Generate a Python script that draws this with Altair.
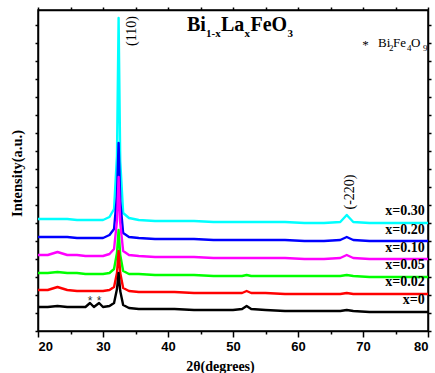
import altair as alt
import pandas as pd

# ---------------- data ----------------
two_theta = [20, 21.5, 23, 24.5, 26, 27.3, 28.0, 28.6, 29.4, 30.0, 31.0, 31.7, 32.15, 32.4, 32.65,
             33.1, 34.0, 35.5, 38, 41, 44, 47, 50, 51.4, 52.1, 52.8, 55, 58, 61, 64, 66.5,
             67.5, 68.5, 71, 74, 77, 80]

series_names = ["x=0.30", "x=0.20", "x=0.10", "x=0.05", "x=0.02", "x=0"]
series_colors = ["#00FFFF", "#0000FF", "#FF00FF", "#00FF00", "#FF0000", "#000000"]

int_030 = [112, 112, 112, 112, 111, 111, 111, 111, 111, 111, 114, 122, 175, 313, 170,
           118, 113, 111, 110, 110, 110, 109, 109, 109, 109, 109, 109, 109, 108, 108, 109,
           116, 109, 108, 108, 108, 108]
int_020 = [94, 94, 94, 94, 93, 93, 93, 93, 93, 93, 96, 102, 135, 188, 130,
           98, 94, 93, 92, 92, 92, 91, 91, 91, 91, 91, 91, 91, 90, 90, 91,
           94, 91, 90, 90, 90, 90]
int_010 = [76, 76, 79, 76, 76, 75, 75, 75, 75, 75, 77, 82, 110, 154, 108,
           80, 76, 75, 74, 74, 74, 73, 73, 73, 73, 73, 73, 73, 72, 72, 73,
           76, 73, 72, 72, 72, 72]
int_005 = [58, 58, 59, 58, 58, 57, 57, 57, 57, 57, 58, 62, 78, 101, 76,
           60, 57, 57, 56, 56, 56, 55, 55, 55, 56, 55, 55, 55, 55, 55, 55,
           56, 55, 54, 54, 54, 54]
int_002 = [41, 41, 44, 41, 40, 40, 40, 40, 40, 40, 41, 44, 58, 80, 58,
           43, 40, 39, 39, 39, 38, 38, 38, 38, 40, 38, 38, 37, 37, 37, 37,
           38, 37, 37, 37, 37, 37]
int_000 = [24, 24, 25, 24, 24, 24, 28, 24, 28, 24, 25, 28, 42, 58, 40,
           26, 23, 22, 22, 22, 21, 21, 21, 22, 25, 22, 21, 20, 20, 20, 20,
           21, 20, 19, 19, 19, 19]
series_values = [int_030, int_020, int_010, int_005, int_002, int_000]

label_y = [113, 94, 76, 59, 42, 24]
impurity_peaks = [28.0, 29.4]
impurity_y = [30, 30]

SERIF = "Liberation Serif"
SANS = "Liberation Sans"

xscale = alt.Scale(domain=[20, 80], nice=False, zero=False)
yscale = alt.Scale(domain=[0, 321], nice=False, zero=False)

bottom_axis = alt.Axis(
    orient="bottom", values=list(range(20, 81, 5)),
    labelExpr="datum.value % 10 === 0 ? datum.label : ''",
    tickSize={"condition": {"test": "datum.value % 10 === 0", "value": 6}, "value": 3},
    tickColor="black", tickWidth=1.5, domainColor="black", domainWidth=1.5,
    labelFont=SANS, labelFontWeight="bold", labelFontSize=13, labelColor="black",
    labelPadding=3, grid=False,
    title="2θ(degrees)", titleFont=SERIF, titleFontWeight="bold", titleFontSize=14,
    titleColor="black", titleX=182, titleY=35, titleBaseline="middle")
left_axis = alt.Axis(
    orient="left", values=list(range(0, 322, 18)), labels=False, tickSize=3,
    tickColor="black", tickWidth=1.5, domainColor="black", domainWidth=1.5, grid=False,
    title="Intensity(a.u.)", titleFont=SERIF, titleFontWeight="bold", titleFontSize=14.5,
    titleColor="black", titleX=-21, titleY=163, titleAngle=-90, titleAlign="center",
    titleBaseline="middle")
top_axis = alt.Axis(orient="top", values=list(range(20, 81, 5)), labels=False, tickSize=3,
                    tickColor="black", tickWidth=1.5, domainColor="black", domainWidth=1.5,
                    grid=False, title=None)
right_axis = alt.Axis(orient="right", values=list(range(0, 322, 18)), labels=False, tickSize=3,
                      tickColor="black", tickWidth=1.5, domainColor="black", domainWidth=1.5,
                      grid=False, title=None)

layers = []
for k, (name, col, vals) in enumerate(zip(series_names, series_colors, series_values)):
    df = pd.DataFrame({"t": two_theta, "i": vals, "s": name})
    if k == 0:
        xa, ya = bottom_axis, left_axis
    else:
        xa, ya = None, None
    layers.append(
        alt.Chart(df).mark_line(color=col, strokeWidth=2.4, strokeJoin="round").encode(
            x=alt.X("t:Q", scale=xscale, axis=xa),
            y=alt.Y("i:Q", scale=yscale, axis=ya),
        )
    )

# frame axes (top / right)
frame_df = pd.DataFrame({"t": [20], "i": [0]})
layers.append(
    alt.Chart(frame_df).mark_point(opacity=0).encode(
        x=alt.X("t:Q", scale=xscale, axis=top_axis),
        y=alt.Y("i:Q", scale=yscale, axis=right_axis),
    )
)

# series labels
lab_df = pd.DataFrame({"t": [79.5] * len(series_names), "i": label_y, "txt": series_names})
layers.append(
    alt.Chart(lab_df).mark_text(font=SERIF, fontWeight="bold", fontSize=14, align="right",
                                baseline="bottom", color="black").encode(
        x=alt.X("t:Q", scale=xscale, axis=None),
        y=alt.Y("i:Q", scale=yscale, axis=None),
        text="txt:N")
)

# peak indices
hkl_df = pd.DataFrame({"t": [34.4, 68.0], "i": [300, 139], "txt": ["(110)", "(-220)"]})
layers.append(
    alt.Chart(hkl_df).mark_text(font=SERIF, fontSize=14, angle=270, align="center",
                                baseline="middle", color="black").encode(
        x=alt.X("t:Q", scale=xscale, axis=None),
        y=alt.Y("i:Q", scale=yscale, axis=None),
        text="txt:N")
)

# impurity stars
star_df = pd.DataFrame({"t": impurity_peaks, "i": impurity_y, "txt": ["*", "*"]})
layers.append(
    alt.Chart(star_df).mark_text(font=SANS, fontSize=12, align="center", baseline="middle",
                                 color="#333333").encode(
        x=alt.X("t:Q", scale=xscale, axis=None),
        y=alt.Y("i:Q", scale=yscale, axis=None),
        text="txt:N")
)

# compound title pieces (main text + subscripts)
title_df = pd.DataFrame({
    "t": [42.92, 45.85, 48.15, 51.77, 52.69, 58.38],
    "i": [300, 294, 300, 294, 300, 294],
    "txt": ["Bi", "1-x", "La", "x", "FeO", "3"],
    "fs": [20, 11, 20, 11, 20, 11],
})
layers.append(
    alt.Chart(title_df).mark_text(font=SERIF, fontWeight="bold", align="left",
                                  baseline="alphabetic", color="black").encode(
        x=alt.X("t:Q", scale=xscale, axis=None),
        y=alt.Y("i:Q", scale=yscale, axis=None),
        text="txt:N",
        size=alt.Size("fs:Q", scale=None, legend=None))
)

# impurity legend  "* Bi2Fe4O9"
leg_df = pd.DataFrame({
    "t": [69.9, 72.31, 74.0, 74.62, 76.77, 77.38, 79.23],
    "i": [282, 284, 280, 284, 280, 284, 280],
    "txt": ["*", "Bi", "2", "Fe", "4", "O", "9"],
    "fs": [13, 13, 9, 13, 9, 13, 9],
})
layers.append(
    alt.Chart(leg_df).mark_text(font=SERIF, align="left", baseline="alphabetic",
                                color="black").encode(
        x=alt.X("t:Q", scale=xscale, axis=None),
        y=alt.Y("i:Q", scale=yscale, axis=None),
        text="txt:N",
        size=alt.Size("fs:Q", scale=None, legend=None))
)

chart = alt.layer(*layers).resolve_axis(x="independent", y="independent").properties(
    width=390, height=321,
    autosize=alt.AutoSizeParams(type="none"),
    padding={"left": 38, "top": 10, "right": 7, "bottom": 42},
    background="white",
).configure_view(stroke="black", strokeWidth=1.5)

chart.save("out.html", embed_options={"renderer": "svg", "actions": False})
